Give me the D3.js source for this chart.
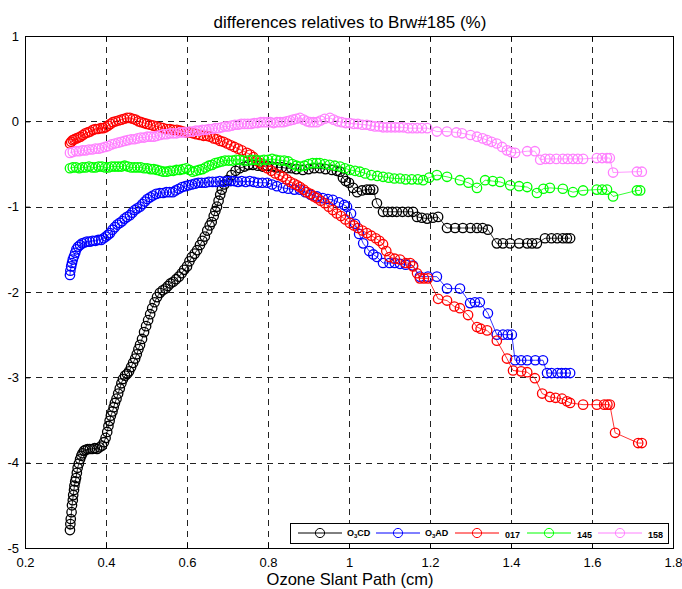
<!DOCTYPE html>
<html>
<head>
<meta charset="utf-8">
<script src="https://cdn.jsdelivr.net/npm/d3@7"></script>
<style>
  body { margin: 0; background: #fff; }
  svg { font-family: "Liberation Sans", Arial, sans-serif; }
</style>
</head>
<body>
<svg id="chart"></svg>
<script>
// series, [slant path (cm), difference (%)]
var o3cd = [[0.311,-4.79],[0.312,-4.72],[0.313,-4.66],[0.315,-4.58],[0.316,-4.5],[0.318,-4.44],[0.319,-4.38],[0.321,-4.32],[0.322,-4.27],[0.324,-4.22],[0.326,-4.18],[0.328,-4.12],[0.33,-4.06],[0.333,-4.01],[0.336,-3.96],[0.339,-3.92],[0.342,-3.89],[0.346,-3.86],[0.35,-3.85],[0.355,-3.84],[0.36,-3.84],[0.366,-3.84],[0.372,-3.83],[0.378,-3.84],[0.384,-3.82],[0.39,-3.8],[0.395,-3.76],[0.399,-3.71],[0.403,-3.64],[0.406,-3.57],[0.409,-3.51],[0.412,-3.45],[0.416,-3.4],[0.419,-3.35],[0.422,-3.3],[0.426,-3.25],[0.43,-3.19],[0.434,-3.13],[0.438,-3.07],[0.442,-3.02],[0.447,-2.98],[0.452,-2.96],[0.457,-2.93],[0.462,-2.88],[0.467,-2.83],[0.472,-2.78],[0.476,-2.73],[0.48,-2.67],[0.484,-2.62],[0.489,-2.55],[0.494,-2.47],[0.499,-2.4],[0.504,-2.33],[0.509,-2.26],[0.514,-2.19],[0.52,-2.12],[0.526,-2.06],[0.533,-2.01],[0.54,-1.98],[0.547,-1.96],[0.553,-1.93],[0.559,-1.9],[0.566,-1.88],[0.573,-1.85],[0.58,-1.82],[0.587,-1.78],[0.593,-1.74],[0.6,-1.7],[0.606,-1.64],[0.612,-1.59],[0.619,-1.55],[0.625,-1.51],[0.632,-1.45],[0.638,-1.4],[0.644,-1.35],[0.65,-1.28],[0.656,-1.22],[0.661,-1.18],[0.666,-1.11],[0.67,-1.05],[0.674,-1.0],[0.678,-0.93],[0.682,-0.86],[0.686,-0.8],[0.692,-0.74],[0.7,-0.69],[0.71,-0.63],[0.72,-0.58],[0.73,-0.55],[0.742,-0.53],[0.752,-0.51],[0.763,-0.51],[0.775,-0.52],[0.787,-0.53],[0.798,-0.52],[0.81,-0.53],[0.822,-0.54],[0.834,-0.54],[0.846,-0.55],[0.858,-0.55],[0.87,-0.56],[0.886,-0.57],[0.9,-0.56],[0.914,-0.55],[0.928,-0.55],[0.942,-0.56],[0.958,-0.57],[0.97,-0.58],[0.978,-0.59],[0.985,-0.66],[0.992,-0.7],[1.0,-0.72],[1.01,-0.78],[1.02,-0.83],[1.032,-0.81],[1.044,-0.8],[1.052,-0.8],[1.06,-0.8],[1.069,-0.96],[1.084,-1.06],[1.096,-1.06],[1.107,-1.06],[1.118,-1.06],[1.132,-1.06],[1.146,-1.06],[1.158,-1.06],[1.168,-1.12],[1.18,-1.13],[1.193,-1.14],[1.207,-1.13],[1.22,-1.12],[1.242,-1.25],[1.262,-1.25],[1.281,-1.25],[1.3,-1.25],[1.316,-1.25],[1.33,-1.25],[1.343,-1.27],[1.365,-1.43],[1.38,-1.43],[1.398,-1.43],[1.42,-1.43],[1.44,-1.43],[1.452,-1.43],[1.464,-1.43],[1.484,-1.37],[1.5,-1.37],[1.514,-1.37],[1.528,-1.37],[1.538,-1.37],[1.546,-1.37]];

var o3ad = [[0.311,-1.8],[0.312,-1.75],[0.314,-1.7],[0.316,-1.66],[0.318,-1.62],[0.321,-1.58],[0.324,-1.54],[0.327,-1.5],[0.331,-1.47],[0.336,-1.45],[0.341,-1.43],[0.347,-1.42],[0.353,-1.41],[0.36,-1.41],[0.367,-1.4],[0.374,-1.4],[0.381,-1.39],[0.388,-1.39],[0.394,-1.37],[0.4,-1.35],[0.405,-1.33],[0.41,-1.31],[0.416,-1.27],[0.422,-1.24],[0.428,-1.21],[0.434,-1.19],[0.44,-1.17],[0.446,-1.14],[0.452,-1.12],[0.459,-1.1],[0.465,-1.07],[0.471,-1.04],[0.477,-1.02],[0.484,-1.0],[0.49,-0.97],[0.496,-0.94],[0.502,-0.91],[0.509,-0.89],[0.516,-0.87],[0.524,-0.85],[0.533,-0.84],[0.541,-0.84],[0.549,-0.83],[0.557,-0.83],[0.565,-0.83],[0.572,-0.81],[0.58,-0.79],[0.588,-0.77],[0.596,-0.76],[0.604,-0.75],[0.612,-0.74],[0.62,-0.73],[0.628,-0.72],[0.636,-0.72],[0.645,-0.72],[0.654,-0.71],[0.663,-0.71],[0.672,-0.71],[0.681,-0.7],[0.69,-0.71],[0.699,-0.7],[0.708,-0.7],[0.717,-0.7],[0.726,-0.71],[0.735,-0.7],[0.745,-0.71],[0.755,-0.7],[0.765,-0.71],[0.775,-0.72],[0.786,-0.72],[0.798,-0.72],[0.81,-0.74],[0.822,-0.76],[0.837,-0.78],[0.85,-0.79],[0.865,-0.8],[0.879,-0.8],[0.892,-0.83],[0.905,-0.86],[0.921,-0.88],[0.935,-0.9],[0.948,-0.91],[0.96,-0.92],[0.975,-0.95],[0.988,-0.98],[0.995,-1.0],[1.005,-1.08],[1.015,-1.2],[1.025,-1.32],[1.035,-1.43],[1.05,-1.52],[1.06,-1.56],[1.069,-1.59],[1.084,-1.66],[1.1,-1.66],[1.113,-1.66],[1.126,-1.67],[1.14,-1.68],[1.158,-1.69],[1.175,-1.82],[1.195,-1.82],[1.217,-1.82],[1.242,-1.96],[1.274,-1.96],[1.299,-2.13],[1.311,-2.12],[1.323,-2.12],[1.343,-2.25],[1.365,-2.5],[1.38,-2.5],[1.392,-2.5],[1.402,-2.5],[1.41,-2.8],[1.425,-2.8],[1.44,-2.8],[1.46,-2.8],[1.479,-2.8],[1.489,-2.95],[1.5,-2.95],[1.515,-2.95],[1.525,-2.95],[1.535,-2.95],[1.546,-2.95]];

var b017 = [[0.311,-0.26],[0.314,-0.24],[0.318,-0.22],[0.322,-0.21],[0.327,-0.2],[0.332,-0.19],[0.337,-0.18],[0.343,-0.16],[0.349,-0.14],[0.355,-0.13],[0.361,-0.12],[0.368,-0.1],[0.374,-0.09],[0.38,-0.09],[0.387,-0.08],[0.393,-0.08],[0.399,-0.07],[0.405,-0.05],[0.411,-0.03],[0.417,-0.01],[0.424,0.0],[0.431,0.01],[0.438,0.02],[0.445,0.03],[0.452,0.04],[0.459,0.04],[0.466,0.03],[0.473,0.02],[0.48,0.0],[0.487,-0.01],[0.494,-0.02],[0.501,-0.03],[0.509,-0.04],[0.517,-0.05],[0.525,-0.06],[0.533,-0.07],[0.541,-0.08],[0.55,-0.09],[0.558,-0.09],[0.566,-0.1],[0.575,-0.1],[0.583,-0.11],[0.591,-0.12],[0.599,-0.13],[0.607,-0.13],[0.615,-0.14],[0.623,-0.15],[0.632,-0.16],[0.641,-0.17],[0.649,-0.17],[0.657,-0.18],[0.666,-0.2],[0.674,-0.21],[0.682,-0.23],[0.69,-0.24],[0.699,-0.26],[0.708,-0.28],[0.717,-0.3],[0.726,-0.32],[0.735,-0.34],[0.748,-0.37],[0.756,-0.39],[0.764,-0.42],[0.772,-0.46],[0.78,-0.49],[0.789,-0.52],[0.798,-0.55],[0.808,-0.58],[0.818,-0.61],[0.828,-0.63],[0.837,-0.65],[0.846,-0.68],[0.855,-0.71],[0.864,-0.73],[0.872,-0.75],[0.879,-0.77],[0.888,-0.8],[0.896,-0.83],[0.905,-0.85],[0.913,-0.88],[0.921,-0.9],[0.93,-0.93],[0.94,-0.96],[0.95,-1.0],[0.96,-1.04],[0.97,-1.08],[0.98,-1.11],[0.991,-1.15],[1.002,-1.19],[1.012,-1.22],[1.022,-1.25],[1.033,-1.28],[1.044,-1.31],[1.055,-1.34],[1.066,-1.37],[1.075,-1.4],[1.084,-1.44],[1.092,-1.52],[1.1,-1.59],[1.113,-1.61],[1.126,-1.62],[1.14,-1.66],[1.151,-1.66],[1.158,-1.7],[1.168,-1.78],[1.175,-1.84],[1.185,-1.84],[1.195,-1.84],[1.22,-2.08],[1.242,-2.1],[1.26,-2.17],[1.274,-2.19],[1.294,-2.27],[1.316,-2.41],[1.325,-2.43],[1.341,-2.45],[1.365,-2.57],[1.39,-2.78],[1.405,-2.92],[1.425,-2.93],[1.44,-2.94],[1.459,-3.01],[1.477,-3.19],[1.496,-3.23],[1.51,-3.24],[1.526,-3.25],[1.538,-3.28],[1.546,-3.3],[1.578,-3.32],[1.612,-3.32],[1.63,-3.32],[1.638,-3.32],[1.644,-3.32],[1.657,-3.65],[1.714,-3.77],[1.723,-3.77]];

var b145 = [[0.311,-0.55],[0.318,-0.54],[0.326,-0.54],[0.334,-0.55],[0.342,-0.54],[0.35,-0.54],[0.358,-0.53],[0.366,-0.54],[0.374,-0.54],[0.382,-0.53],[0.39,-0.53],[0.398,-0.54],[0.406,-0.54],[0.414,-0.53],[0.422,-0.53],[0.43,-0.53],[0.438,-0.53],[0.446,-0.52],[0.454,-0.53],[0.462,-0.54],[0.47,-0.54],[0.478,-0.54],[0.486,-0.54],[0.494,-0.55],[0.502,-0.55],[0.51,-0.56],[0.518,-0.56],[0.526,-0.57],[0.534,-0.58],[0.542,-0.59],[0.55,-0.59],[0.558,-0.58],[0.566,-0.58],[0.574,-0.57],[0.582,-0.57],[0.59,-0.56],[0.598,-0.55],[0.606,-0.57],[0.614,-0.59],[0.622,-0.58],[0.63,-0.57],[0.638,-0.56],[0.646,-0.54],[0.654,-0.52],[0.662,-0.51],[0.67,-0.49],[0.678,-0.48],[0.686,-0.47],[0.694,-0.46],[0.703,-0.46],[0.712,-0.46],[0.721,-0.45],[0.73,-0.45],[0.74,-0.46],[0.75,-0.46],[0.76,-0.45],[0.77,-0.45],[0.78,-0.46],[0.79,-0.45],[0.8,-0.45],[0.81,-0.44],[0.82,-0.45],[0.83,-0.46],[0.84,-0.46],[0.85,-0.47],[0.86,-0.5],[0.87,-0.52],[0.879,-0.53],[0.89,-0.52],[0.9,-0.5],[0.91,-0.49],[0.92,-0.49],[0.928,-0.49],[0.94,-0.5],[0.952,-0.51],[0.965,-0.52],[0.978,-0.53],[0.99,-0.55],[1.002,-0.57],[1.015,-0.58],[1.027,-0.59],[1.04,-0.61],[1.055,-0.63],[1.07,-0.64],[1.084,-0.65],[1.098,-0.66],[1.112,-0.67],[1.126,-0.67],[1.14,-0.68],[1.155,-0.68],[1.17,-0.68],[1.183,-0.69],[1.198,-0.66],[1.217,-0.63],[1.242,-0.65],[1.274,-0.69],[1.295,-0.72],[1.316,-0.78],[1.336,-0.69],[1.355,-0.7],[1.373,-0.71],[1.398,-0.75],[1.42,-0.76],[1.44,-0.77],[1.464,-0.84],[1.48,-0.79],[1.496,-0.78],[1.528,-0.79],[1.553,-0.83],[1.578,-0.81],[1.612,-0.8],[1.625,-0.8],[1.637,-0.8],[1.652,-0.88],[1.711,-0.81],[1.719,-0.81]];

var b158 = [[0.311,-0.37],[0.318,-0.36],[0.326,-0.35],[0.334,-0.35],[0.342,-0.34],[0.35,-0.34],[0.358,-0.33],[0.366,-0.33],[0.374,-0.32],[0.382,-0.32],[0.39,-0.31],[0.398,-0.3],[0.406,-0.29],[0.414,-0.27],[0.422,-0.26],[0.43,-0.25],[0.438,-0.24],[0.446,-0.23],[0.454,-0.22],[0.462,-0.21],[0.47,-0.21],[0.478,-0.2],[0.486,-0.19],[0.494,-0.19],[0.502,-0.18],[0.51,-0.18],[0.518,-0.18],[0.526,-0.17],[0.534,-0.16],[0.542,-0.15],[0.55,-0.15],[0.558,-0.14],[0.566,-0.14],[0.574,-0.14],[0.582,-0.13],[0.59,-0.13],[0.598,-0.13],[0.606,-0.12],[0.614,-0.12],[0.622,-0.11],[0.63,-0.11],[0.638,-0.1],[0.646,-0.1],[0.654,-0.09],[0.662,-0.09],[0.67,-0.08],[0.678,-0.08],[0.686,-0.07],[0.694,-0.06],[0.702,-0.06],[0.71,-0.05],[0.718,-0.04],[0.726,-0.04],[0.734,-0.03],[0.742,-0.03],[0.75,-0.03],[0.758,-0.03],[0.766,-0.02],[0.774,-0.02],[0.782,-0.01],[0.79,-0.01],[0.798,-0.01],[0.806,-0.01],[0.814,-0.02],[0.822,-0.01],[0.83,-0.01],[0.838,-0.01],[0.846,0.0],[0.854,0.01],[0.862,0.02],[0.87,0.03],[0.879,0.04],[0.888,0.02],[0.896,0.0],[0.904,-0.01],[0.912,-0.01],[0.921,-0.01],[0.93,0.01],[0.94,0.03],[0.953,0.04],[0.962,0.02],[0.972,0.0],[0.982,-0.01],[0.992,-0.02],[1.002,-0.02],[1.012,-0.03],[1.022,-0.03],[1.033,-0.04],[1.044,-0.04],[1.054,-0.05],[1.064,-0.06],[1.074,-0.06],[1.084,-0.07],[1.094,-0.07],[1.104,-0.07],[1.114,-0.07],[1.124,-0.07],[1.134,-0.07],[1.146,-0.08],[1.157,-0.08],[1.168,-0.08],[1.18,-0.08],[1.193,-0.08],[1.217,-0.12],[1.242,-0.12],[1.265,-0.13],[1.279,-0.14],[1.3,-0.16],[1.316,-0.18],[1.33,-0.2],[1.341,-0.22],[1.352,-0.24],[1.365,-0.26],[1.378,-0.3],[1.39,-0.34],[1.4,-0.36],[1.41,-0.37],[1.44,-0.35],[1.459,-0.35],[1.472,-0.45],[1.485,-0.44],[1.496,-0.44],[1.512,-0.44],[1.528,-0.44],[1.54,-0.44],[1.553,-0.44],[1.565,-0.44],[1.578,-0.44],[1.612,-0.43],[1.625,-0.43],[1.637,-0.43],[1.644,-0.43],[1.652,-0.6],[1.711,-0.59],[1.723,-0.59]];

var seriesNames = ['O3CD', 'O3AD', '017', '145', '158'];
var seriesColors = ['#000000', '#0000ff', '#ff0000', '#00ff00', '#ff80ff'];
var seriesData = [o3cd, o3ad, b017, b145, b158];

var xTicks = [0.2, 0.4, 0.6, 0.8, 1, 1.2, 1.4, 1.6, 1.8];
var yTicks = [-5, -4, -3, -2, -1, 0, 1];

var W = 682, H = 589;
var margins = {top: 36, right: 9, bottom: 41, left: 25};
var width = W - margins.left - margins.right,
    height = H - margins.top - margins.bottom;

var svg = d3.select('#chart').attr('width', W).attr('height', H);

var g = svg.append('g')
    .attr('transform', 'translate(' + margins.left + ',' + margins.top + ')');

var x = d3.scaleLinear().domain([0.2, 1.8]).range([0, width]);
var y = d3.scaleLinear().domain([-5, 1]).range([height, 0]);

// dashed grid
g.append('g').selectAll('line')
    .data(xTicks.slice(1, -1))
    .enter().append('line')
    .attr('x1', d => Math.round(x(d)) + 0.5).attr('x2', d => Math.round(x(d)) + 0.5)
    .attr('y1', 0).attr('y2', height)
    .style('stroke', '#222').style('stroke-dasharray', '6,5');

g.append('g').selectAll('line')
    .data(yTicks.slice(1, -1))
    .enter().append('line')
    .attr('y1', d => Math.round(y(d)) + 0.5).attr('y2', d => Math.round(y(d)) + 0.5)
    .attr('x1', 0).attr('x2', width)
    .style('stroke', '#222').style('stroke-dasharray', '6,5');

// axes, matlab style ticks pointing inward
var fmt = d => String(d);
var xa = g.append('g').attr('transform', 'translate(0,' + height + ')')
    .call(d3.axisBottom(x).tickValues(xTicks).tickSize(-5).tickPadding(10).tickFormat(fmt));
var xt = g.append('g')
    .call(d3.axisTop(x).tickValues(xTicks).tickSize(-5).tickFormat(''));
var ya = g.append('g')
    .call(d3.axisLeft(y).tickValues(yTicks).tickSize(-5).tickPadding(6).tickFormat(fmt));
var yr = g.append('g').attr('transform', 'translate(' + width + ',0)')
    .call(d3.axisRight(y).tickValues(yTicks).tickSize(-5).tickFormat(''));

[xa, xt, ya, yr].forEach(function (a) {
    a.select('.domain').remove();
    a.selectAll('line').style('stroke', '#000');
    a.selectAll('text').style('font-size', '13px').style('fill', '#000')
        .style('font-family', '"Liberation Sans", Arial, sans-serif');
});

g.append('rect')
    .attr('x', 0.5).attr('y', 0.5)
    .attr('width', width).attr('height', height)
    .style('fill', 'none').style('stroke', '#000');

// series
var line = d3.line().x(d => x(d[0])).y(d => y(d[1]));

seriesData.forEach(function (data, i) {
    var s = g.append('g');
    s.append('path')
        .datum(data)
        .attr('d', line)
        .style('fill', 'none')
        .style('stroke', seriesColors[i])
        .style('stroke-width', 0.8);
    s.selectAll('circle')
        .data(data)
        .enter().append('circle')
        .attr('cx', d => x(d[0]))
        .attr('cy', d => y(d[1]))
        .attr('r', 4.7)
        .style('fill', 'none')
        .style('stroke', seriesColors[i])
        .style('stroke-width', 1.3);
});

// title and axis label
svg.append('text')
    .attr('x', 350).attr('y', 28)
    .attr('text-anchor', 'middle')
    .style('font-size', '17px')
    .text('differences relatives to Brw#185 (%)');

svg.append('text')
    .attr('x', 350).attr('y', 585)
    .attr('text-anchor', 'middle')
    .style('font-size', '16.5px')
    .text('Ozone Slant Path (cm)');

// legend
var legendX = [298, 376, 455, 527, 598];
var legend = svg.append('g');
legend.append('rect')
    .attr('x', 290.5).attr('y', 523.5)
    .attr('width', 378).attr('height', 20)
    .style('fill', '#fff').style('stroke', '#000');

seriesNames.forEach(function (name, i) {
    var lx = legendX[i];
    var e = legend.append('g');
    e.append('line')
        .attr('x1', lx).attr('x2', lx + 44)
        .attr('y1', 533).attr('y2', 533)
        .style('stroke', seriesColors[i]);
    e.append('circle')
        .attr('cx', lx + 22).attr('cy', 533).attr('r', 4.6)
        .style('fill', 'none').style('stroke', seriesColors[i]);
    var t = e.append('text')
        .attr('x', lx + 49).attr('y', 536)
        .style('font-size', '9px').style('font-weight', 'bold');
    if (name.charAt(0) == 'O') {
        t.append('tspan').text('O');
        t.append('tspan').attr('dy', 2).style('font-size', '6px').text('3');
        t.append('tspan').attr('dy', -2).text(name.slice(2));
    } else {
        t.attr('x', lx + 50).attr('y', 537.5).text(name);
    }
});
</script>
</body>
</html>
